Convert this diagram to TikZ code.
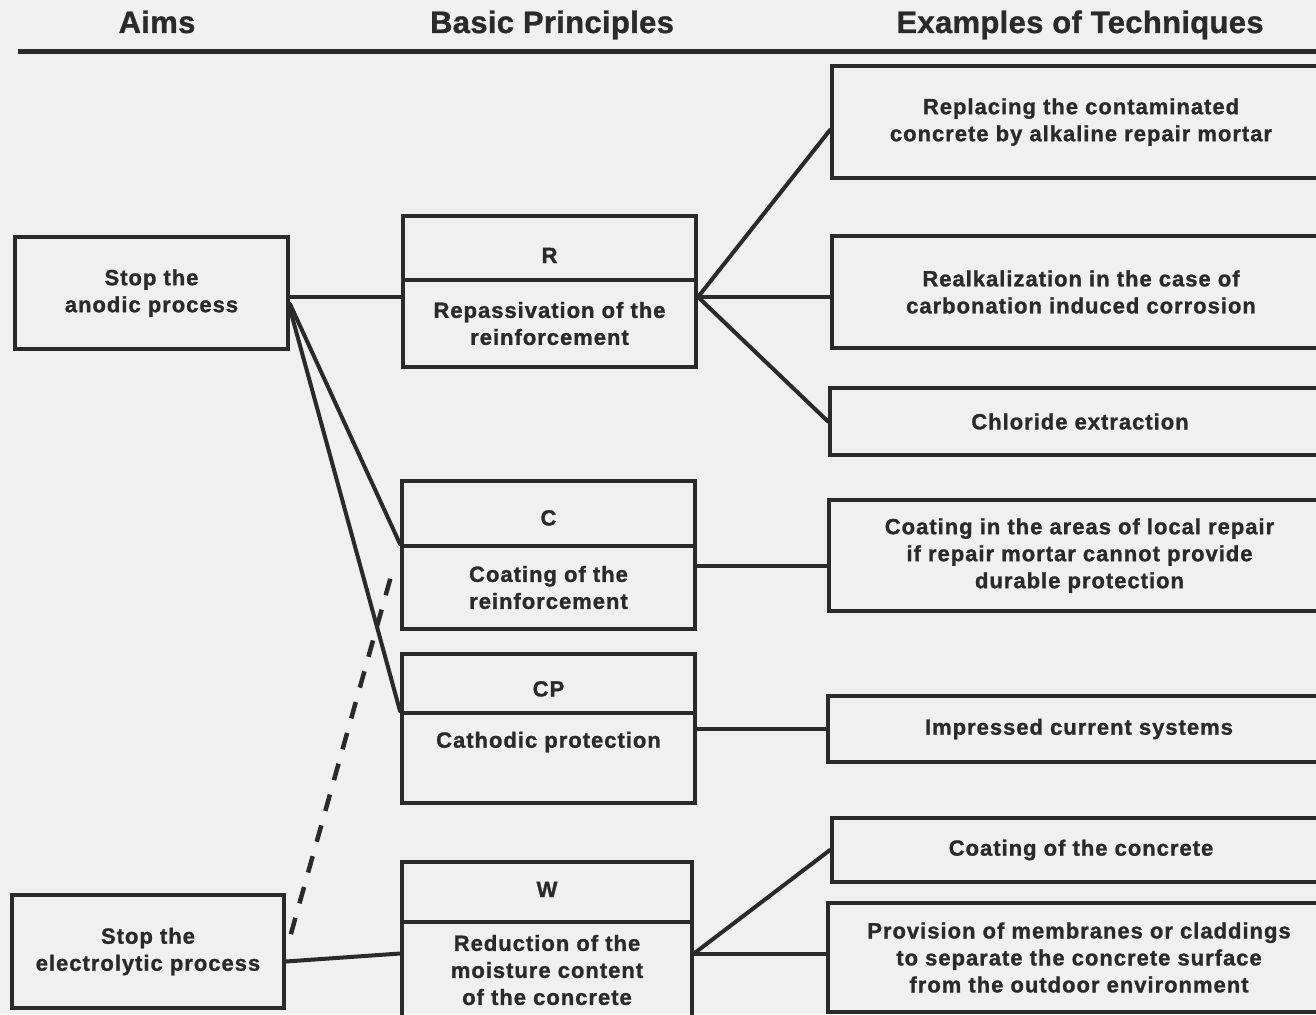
\documentclass[tikz,border=0pt]{standalone}
\usepackage{fontspec}
\setmainfont{Liberation Sans}
\newfontfamily\boxfont{Liberation Sans}[LetterSpace=4.5,FakeBold=1.2]
\newfontfamily\headfont{Liberation Sans}[LetterSpace=1,FakeBold=1.0]
\usetikzlibrary{calc}
\definecolor{ink}{RGB}{42,42,42}
\definecolor{paper}{RGB}{240,240,240}
\tikzset{
 frame/.style={draw=ink, line width=4pt, rectangle, inner sep=0pt},
 txt/.style={text=ink, font=\boxfont\bfseries\fontsize{22}{27}\selectfont, align=center, inner sep=0pt},
 head/.style={text=ink, font=\headfont\bfseries\fontsize{31}{36}\selectfont, inner sep=0pt, anchor=base},
 link/.style={draw=ink, line width=4pt, line cap=round},
 dashlink/.style={draw=ink, line width=4.5pt, dash pattern=on 17pt off 15pt},
}
\begin{document}
\begin{tikzpicture}[x=1pt,y=-1pt]
\fill[paper] (0,0) rectangle (1316,1014);
\useasboundingbox (0,0) rectangle (1316,1014);
\clip (0,0) rectangle (1316,1014);

% headers
\node[head] (h1) at (157,33) {Aims};
\node[head] (h2) at (552,33) {Basic Principles};
\node[head] (h3) at (1080,33) {Examples of Techniques};
\draw[ink, line width=5pt] (18,52) -- (1316,52);

% aims
\node[frame, txt, minimum width=273pt, minimum height=112pt] (anodic) at (151.5,293) {Stop the\\anodic process};
\node[frame, txt, minimum width=272pt, minimum height=113pt] (electro) at (148,951.5) {Stop the\\electrolytic process};

% principles
\node[frame, txt, minimum width=293pt, minimum height=64pt, text height=30pt, text depth=0pt] (rt) at (549.5,248) {R};
\node[frame, txt, minimum width=293pt, minimum height=87pt] (rb) at (549.5,323.5) {Repassivation of the\\reinforcement};
\node[frame, txt, minimum width=293pt, minimum height=65pt, text height=24pt, text depth=0pt] (ct) at (548.5,513.5) {C};
\node[frame, txt, minimum width=293pt, minimum height=83pt] (cb) at (548.5,587.5) {Coating of the\\reinforcement};
\node[frame, txt, minimum width=293pt, minimum height=59pt, text height=26pt, text depth=0pt] (cpt) at (548.5,683.5) {CP};
\node[frame, minimum width=293pt, minimum height=90pt] (cpb) at (548.5,758) {};
\node[txt] (cpl) at (548.5,742) {Cathodic protection};
\node[frame, txt, minimum width=290pt, minimum height=60pt, text height=10pt, text depth=0pt] (wt) at (547,892) {W};
\node[frame, txt, minimum width=290pt, minimum height=96pt] (wb) at (547,970) {Reduction of the\\moisture content\\of the concrete};

% techniques
\node[frame, txt, minimum width=498pt, minimum height=112pt] (t1) at (1081,122) {Replacing the contaminated\\concrete by alkaline repair mortar};
\node[frame, txt, minimum width=498pt, minimum height=112pt] (t2) at (1081,292) {Realkalization in the case of\\carbonation induced corrosion};
\node[frame, txt, minimum width=500pt, minimum height=67pt] (t3) at (1080,421.5) {Chloride extraction};
\node[frame, txt, minimum width=501pt, minimum height=111pt] (t4) at (1079.5,555.5) {Coating in the areas of local repair\\if repair mortar cannot provide\\durable protection};
\node[frame, txt, minimum width=502pt, minimum height=66pt] (t5) at (1079,729) {Impressed current systems};
\node[frame, txt, minimum width=498pt, minimum height=64pt] (t6) at (1081,850) {Coating of the concrete};
\node[frame, txt, minimum width=502pt, minimum height=109pt] (t7) at (1079,957.5) {Provision of membranes or claddings\\to separate the concrete surface\\from the outdoor environment};

% connectors
\draw[link] ([yshift=-4pt]anodic.east) -- ([yshift=-4pt]anodic.east -| rb.west);
\draw[link] ([yshift=-11pt]anodic.east) -- (cb.north west);
\draw[link] ([yshift=-16pt]anodic.east) -- (cpb.north west);

\coordinate (rfan) at ([yshift=26.5pt]rb.east);
\draw[link] (rfan) -- ([yshift=-8pt]t1.west);
\draw[link] (rfan) -- (rfan -| t2.west);
\draw[link] (rfan) -- (t3.west);

\coordinate (cfan) at ([yshift=21.5pt]cb.east);
\draw[link] (cfan) -- (cfan -| t4.west);
\draw[link] (t5.west -| cpb.east) -- (t5.west);

\coordinate (wfan) at ([yshift=4pt]t7.west -| wb.east);
\draw[link] (wfan) -- (t6.west);
\draw[link] (wfan) -- (wfan -| t7.west);

\draw[link] ([yshift=-10pt]electro.east) -- (wb.west |- wfan);
\draw[dashlink, shorten <=18pt, shorten >=34pt] (electro.east) -- (cb.north west);
\end{tikzpicture}
\end{document}
